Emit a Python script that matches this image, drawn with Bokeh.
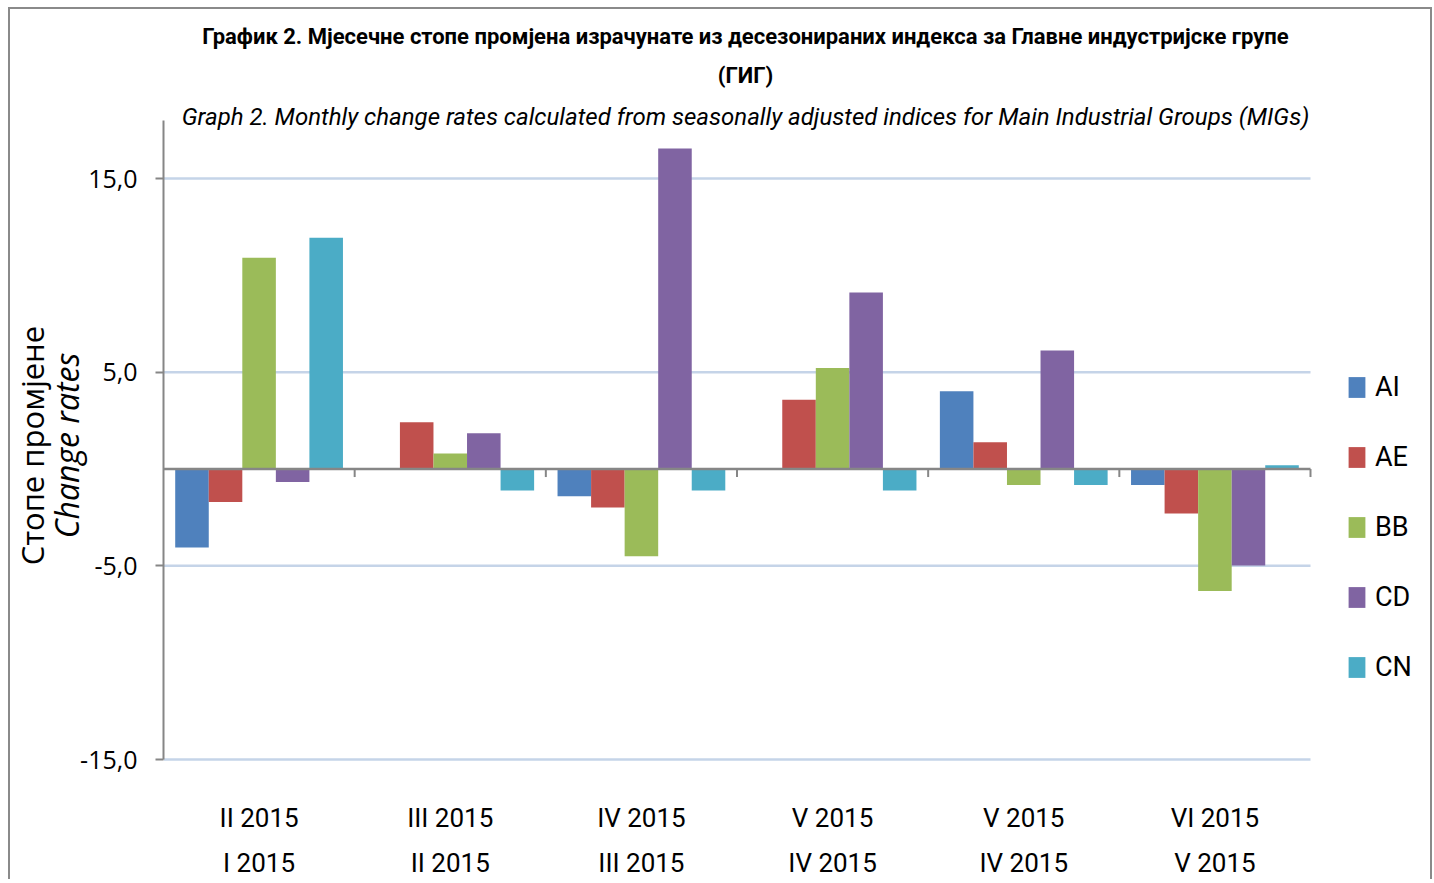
import numpy as np
from bokeh.plotting import figure
from bokeh.models import (ColumnDataSource, FixedTicker, Label, Legend, LegendItem, Range1d, Title)
from bokeh.transform import dodge
from bokeh.embed import file_html
from bokeh.resources import INLINE

# ---- data ----
periods_top = ["II 2015", "III 2015", "IV 2015", "V 2015", "V 2015", "VI 2015"]
periods_bottom = ["I 2015", "II 2015", "III 2015", "IV 2015", "IV 2015", "V 2015"]
series_names = ["AI", "AE", "BB", "CD", "CN"]
AI = [-4.05, 0.0, -1.40, 0.0, 4.02, -0.83]
AE = [-1.70, 2.42, -1.98, 3.58, 1.38, -2.30]
BB = [10.91, 0.80, -4.50, 5.22, -0.83, -6.30]
CD = [-0.67, 1.85, 16.55, 9.12, 6.12, -4.98]
CN = [11.94, -1.11, -1.11, -1.11, -0.83, 0.19]
colors = ["#4F81BD", "#C0504D", "#9BBB59", "#8064A2", "#4BACC6"]
y_ticks = [-15, -5, 5, 15]
y_tick_labels = ["-15,0", "-5,0", "5,0", "15,0"]
y_axis_min, y_axis_max = -15, 18

title1 = "График 2. Мјесечне стопе промјена израчунате из десезонираних индекса за Главне индустријске групе"
title2 = "(ГИГ)"
title3 = "Graph 2. Monthly change rates calculated from seasonally adjusted indices for Main Industrial Groups (MIGs)"
ylab1 = "Стопе промјене"
ylab2 = "Change rates"

COND = "Roboto"
NORMAL = "Open Sans"

# ---- layout (pixels) ----
W, H = 1424, 872          # canvas size
CX = 10                   # canvas left on the page
LEFT = 153                # left panel width (y axis)
AX_TOP, AX_BOT = 111, 750  # y of y_axis_max / y_axis_min inside canvas
PLOT_W = 1147             # width occupied by the categories
frame_w = W - LEFT
n = len(periods_top)
px_per_unit_y = (AX_BOT - AX_TOP) / (y_axis_max - y_axis_min)
y_top = y_axis_max + AX_TOP / px_per_unit_y
y_bot = y_axis_min - (H - AX_BOT) / px_per_unit_y
x_end = n * frame_w / PLOT_W

centers = [i + 0.5 for i in range(n)]
src = ColumnDataSource(dict(x=centers, AI=AI, AE=AE, BB=BB, CD=CD, CN=CN))

p = figure(width=W, height=H, output_backend="svg", toolbar_location=None,
           x_axis_location=None,
           x_range=Range1d(0, x_end), y_range=Range1d(y_bot, y_top),
           min_border=0, min_border_left=LEFT,
           background_fill_color="white", border_fill_color="white")
p.title.visible = False
p.outline_line_color = None
p.styles = {"margin-left": "8px", "margin-top": "7px",
            "border-top": "2px solid #8a8a8a", "border-left": "2px solid #8a8a8a",
            "border-right": "2px solid #8a8a8a"}

# y axis
ya = p.yaxis[0]
ya.ticker = FixedTicker(ticks=y_ticks)
ya.bounds = (y_axis_min, y_axis_max)
ya.major_label_overrides = {t: l for t, l in zip(y_ticks, y_tick_labels)}
ya.axis_line_color = "#868686"
ya.axis_line_width = 2
ya.major_tick_line_color = "#868686"
ya.major_tick_line_width = 2
ya.major_tick_out = 8
ya.major_tick_in = 0
ya.minor_tick_line_color = None
ya.major_label_text_font = NORMAL
ya.major_label_text_font_size = "25px"
ya.major_label_text_color = "black"
ya.major_label_standoff = 18
ya.axis_label = ylab2
ya.axis_label_text_font = NORMAL
ya.axis_label_text_font_style = "italic"
ya.axis_label_text_font_size = "32px"
ya.axis_label_text_color = "black"
ya.axis_label_standoff = -11
p.add_layout(Title(text=ylab1, align="center", text_font=NORMAL, text_font_size="31px",
                   text_font_style="normal", text_color="black", standoff=-21), "left")

p.xgrid.visible = False
p.ygrid.visible = False

# horizontal grid lines across the category area
p.segment(x0=[0] * len(y_ticks), x1=[n] * len(y_ticks), y0=y_ticks, y1=y_ticks,
          line_color="#C5D4E8", line_width=2.5)

# bars
width = 0.1755
items = []
for i, (name, c) in enumerate(zip(series_names, colors)):
    r = p.vbar(x=dodge("x", (i - 2) * width, range=p.x_range), top=name, bottom=0, width=width,
               source=src, fill_color=c, line_color=None)
    items.append(LegendItem(label=name, renderers=[r]))

# zero axis line and category tick marks
p.segment(x0=[0], x1=[n], y0=[0], y1=[0], line_color="#868686", line_width=2.5)
bounds = list(range(1, n + 1))
p.segment(x0=bounds, x1=bounds, y0=[0] * n, y1=[-8 / px_per_unit_y] * n,
          line_color="#868686", line_width=2)

# category labels (two lines)
for cx, t, b in zip(centers, periods_top, periods_bottom):
    p.add_layout(Label(x=cx, y=H - 808, x_units="data", y_units="screen", text=t, text_align="center",
                       text_baseline="middle", text_font=COND, text_font_size="26px", text_color="black"))
    p.add_layout(Label(x=cx, y=H - 853, x_units="data", y_units="screen", text=b, text_align="center",
                       text_baseline="middle", text_font=COND, text_font_size="26px", text_color="black"))

# titles
tx = 745 - CX - LEFT
p.add_layout(Label(x=tx, y=H - 27, x_units="screen", y_units="screen", text=title1, text_align="center",
                   text_baseline="middle", text_font=COND, text_font_style="bold",
                   text_font_size="22px", text_color="black"))
p.add_layout(Label(x=tx, y=H - 66, x_units="screen", y_units="screen", text=title2, text_align="center",
                   text_baseline="middle", text_font=COND, text_font_style="bold",
                   text_font_size="22px", text_color="black"))
p.add_layout(Label(x=tx, y=H - 107, x_units="screen", y_units="screen", text=title3, text_align="center",
                   text_baseline="middle", text_font=COND, text_font_style="italic",
                   text_font_size="24px", text_color="black"))

legend = Legend(items=items, location=(1346 - CX - LEFT, H - 674), orientation="vertical",
                glyph_width=21, glyph_height=26, label_height=30, spacing=38,
                label_standoff=8, padding=0, margin=0,
                label_text_font=COND, label_text_font_size="27px", label_text_color="black",
                border_line_color=None, background_fill_alpha=0)
p.add_layout(legend, "center")

open("out.html", "w").write(file_html(p, INLINE))
